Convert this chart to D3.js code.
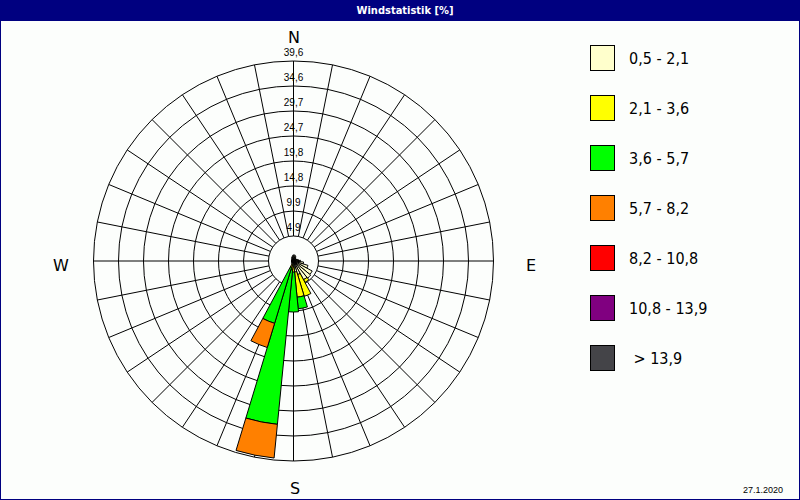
<!DOCTYPE html>
<html>
<head>
<meta charset="utf-8">
<script src="https://cdn.jsdelivr.net/npm/d3@7"></script>
<style>
  html, body { margin: 0; padding: 0; background: #fcfefc; }
  svg { display: block; }
  text { font-family: "DejaVu Sans Condensed", "DejaVu Sans", sans-serif; }
</style>
</head>
<body>
<svg id="chart" width="800" height="500"></svg>
<script>
// Wind directions: 32 sectors, bearing in degrees clockwise from north
const sectorBearings = [
  0, 11.25, 22.5, 33.75, 45, 56.25, 67.5, 78.75,
  90, 101.25, 112.5, 123.75, 135, 146.25, 157.5, 168.75,
  180, 191.25, 202.5, 213.75, 225, 236.25, 247.5, 258.75,
  270, 281.25, 292.5, 303.75, 315, 326.25, 337.5, 348.75
];

// Speed classes (m/s) and their colours
const speedClasses = ["0,5 - 2,1", "2,1 - 3,6", "3,6 - 5,7", "5,7 - 8,2", "8,2 - 10,8", "10,8 - 13,9", " > 13,9"];
const classColors  = ["#ffffcc", "#ffff00", "#00ff00", "#ff8000", "#ff0000", "#800080", "#444448"];

// Frequency (%) per sector for each speed class
const class1 = [1.2, 1.2, 1.0, 0.8, 0.6, 0.6, 0.8, 1.0, 1.4, 2.0, 3.0, 4.2, 4.4, 4.2, 2.8, 2.2, 1.2, 0.8, 0.8, 0.6, 0.4, 0.4, 0.4, 0.4, 0.4, 0.4, 0.4, 0.4, 0.4, 0.6, 0.8, 1.0];
const class2 = [0, 0, 0, 0, 0, 0, 0, 0, 0, 0, 0, 0, 0, 0.6, 4.5, 5.0, 1.0, 1.0, 0.6, 0, 0, 0, 0, 0, 0, 0, 0, 0, 0, 0, 0, 0];
const class3 = [0, 0, 0, 0, 0, 0, 0, 0, 0, 0, 0, 0, 0, 0, 0, 2.3, 7.9, 30.7, 11.5, 0, 0, 0, 0, 0, 0, 0, 0, 0, 0, 0, 0, 0];
const class4 = [0, 0, 0, 0, 0, 0, 0, 0, 0, 0, 0, 0, 0, 0, 0, 0, 0, 6.7, 5.0, 0, 0, 0, 0, 0, 0, 0, 0, 0, 0, 0, 0, 0];
const class5 = new Array(32).fill(0);
const class6 = new Array(32).fill(0);
const class7 = new Array(32).fill(0);
const classValues = [class1, class2, class3, class4, class5, class6, class7];

// Radial rings and their labels
const ringValues = [4.95, 9.9, 14.85, 19.8, 24.75, 29.7, 34.65, 39.6];
const ringLabels = ["4,9", "9,9", "14,8", "19,8", "24,7", "29,7", "34,6", "39,6"];

const title = "Windstatistik [%]";
const dateText = "27.1.2020";
const compass = [
  { label: "N", bearing: 0 },
  { label: "E", bearing: 90 },
  { label: "S", bearing: 180 },
  { label: "W", bearing: 270 }
];

const W = 800, H = 500;
const cx = 293.5, cy = 261;
const svg = d3.select("#chart");

// frame and title bar
svg.append("rect").attr("x", 0).attr("y", 0).attr("width", W).attr("height", H).attr("fill", "#000080");
svg.append("rect").attr("x", 1).attr("y", 21).attr("width", W - 2).attr("height", H - 22).attr("fill", "#fcfefc");
svg.append("text")
  .attr("x", 405).attr("y", 10.5)
  .attr("text-anchor", "middle").attr("dominant-baseline", "central")
  .attr("fill", "#ffffff").attr("font-size", 11).attr("font-weight", "bold")
  .style("font-family", "'Liberation Sans Narrow', 'DejaVu Sans Condensed', sans-serif")
  .text(title);

const r = d3.scaleLinear().domain([0, 39.6]).range([0, 200]);
const rad = d => d * Math.PI / 180;

const plot = svg.append("g").attr("transform", `translate(${cx},${cy})`);

// grid: spokes between the inner ring and the outer ring
const innerR = r(ringValues[0]);
const outerR = r(ringValues[ringValues.length - 1]);
plot.append("g").selectAll("line").data(sectorBearings).join("line")
  .attr("x1", b => innerR * Math.sin(rad(b)))
  .attr("y1", b => -innerR * Math.cos(rad(b)))
  .attr("x2", b => outerR * Math.sin(rad(b)))
  .attr("y2", b => -outerR * Math.cos(rad(b)))
  .attr("stroke", "#000").attr("stroke-width", 1);

plot.append("g").selectAll("circle").data(ringValues).join("circle")
  .attr("r", d => r(d))
  .attr("fill", "none").attr("stroke", "#000").attr("stroke-width", 1);

// stacked sectors
const step = 360 / sectorBearings.length;
const arc = d3.arc();
const segs = [];
sectorBearings.forEach((b, i) => {
  let acc = 0;
  classValues.forEach((vals, k) => {
    const v = vals[i];
    if (v > 0) {
      segs.push({ b, k, from: acc, to: acc + v });
      acc += v;
    }
  });
});
plot.append("g").selectAll("path").data(segs).join("path")
  .attr("d", s => arc({
    innerRadius: r(s.from), outerRadius: r(s.to),
    startAngle: rad(s.b - step / 2), endAngle: rad(s.b + step / 2)
  }))
  .attr("fill", s => classColors[s.k])
  .attr("stroke", "#000").attr("stroke-width", 1).attr("stroke-linejoin", "miter");

plot.append("circle").attr("r", 2.5).attr("fill", "#000");

// ring labels along the north spoke
plot.append("g").selectAll("text").data(ringValues).join("text")
  .attr("x", 0).attr("y", d => -r(d) - 5)
  .attr("text-anchor", "middle")
  .attr("font-size", 10).attr("fill", "#000")
  .style("font-family", "'Liberation Sans', Arial, sans-serif")
  .text((d, i) => ringLabels[i]);

// compass letters
const compassPos = { N: [294, 37], E: [531, 265], S: [295, 488], W: [61, 265] };
svg.append("g").selectAll("text").data(compass).join("text")
  .attr("x", d => compassPos[d.label][0])
  .attr("y", d => compassPos[d.label][1])
  .attr("text-anchor", "middle").attr("dominant-baseline", "central")
  .attr("font-size", 16).attr("fill", "#000")
  .style("font-family", "'DejaVu Sans', sans-serif")
  .text(d => d.label);

// legend
const legend = svg.append("g").attr("transform", "translate(590.5,45.5)");
const items = legend.selectAll("g").data(speedClasses).join("g")
  .attr("transform", (d, i) => `translate(0,${i * 50})`);
items.append("rect").attr("width", 24).attr("height", 25)
  .attr("fill", (d, i) => classColors[i]).attr("stroke", "#000").attr("stroke-width", 1);
items.append("text")
  .attr("x", 38.5).attr("y", 13)
  .attr("dominant-baseline", "central")
  .attr("font-size", 16).attr("fill", "#000")
  .style("white-space", "pre")
  .text(d => d);

// date
svg.append("text")
  .attr("x", 783).attr("y", 490)
  .attr("text-anchor", "end").attr("dominant-baseline", "central")
  .attr("font-size", 9).attr("fill", "#000")
  .style("font-family", "'Liberation Sans', Arial, sans-serif")
  .text(dateText);
</script>
</body>
</html>
